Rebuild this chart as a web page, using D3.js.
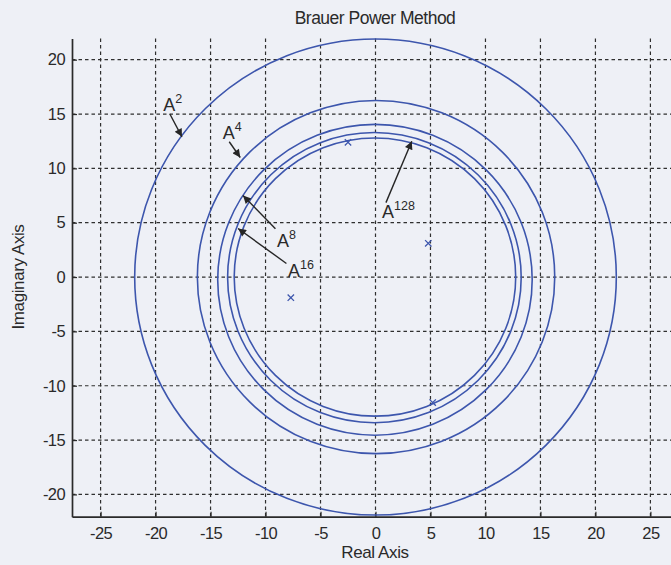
<!DOCTYPE html>
<html><head><meta charset="utf-8">
<script src="https://cdn.jsdelivr.net/npm/d3@7"></script>
<style>
html,body{margin:0;padding:0;background:#eef0f6;}
svg{display:block;}
text{font-family:"Liberation Sans",Arial,sans-serif;fill:#2a2a2a;}
</style></head><body>
<script>
// ---- data ----
const xTicks = [-25,-20,-15,-10,-5,0,5,10,15,20,25];
const yTicks = [-20,-15,-10,-5,0,5,10,15,20];
const ovalNames = ["A^2","A^4","A^8","A^16","A^128"];
const ovalCx = [0.0, 0.05, -0.05, -0.1, -0.05];
const ovalCy = [0.0, 0.0, -0.25, -0.05, 0.0];
const ovalR  = [21.9, 16.25, 14.3, 13.35, 12.8];
const eigRe = [-2.5, 4.8, -7.7, 5.2];
const eigIm = [12.4, 3.1, -1.9, -11.55];
const labelBase = ["A","A","A","A","A"];
const labelSup = ["2","4","8","16","128"];
const labelX = [-19.3, -13.9, -8.95, -7.95, 0.6];
const labelY = [15.3, 12.7, 2.75, 0.05, 5.4];
const arrowFromX = [-18.7, -13.3, -9.1, -8.1, 0.95];
const arrowFromY = [15.0, 12.45, 4.45, 1.25, 6.85];
const arrowToX = [-17.6, -12.3, -12.05, -12.5, 3.3];
const arrowToY = [12.9, 11.0, 7.5, 4.47, 12.5];

const W=671,H=565;
const FONT="'Liberation Sans',Arial,sans-serif";
const svg=d3.select("body").append("svg").attr("width",W).attr("height",H);
const x=d3.scaleLinear().domain([-27.6,27.6]).range([72,679]);
const y=d3.scaleLinear().domain([-22.05,21.95]).range([516.7,38.5]);

svg.append("defs").append("marker").attr("id","ah").attr("viewBox","0 0 10 10")
 .attr("refX",10).attr("refY",5).attr("markerWidth",11).attr("markerHeight",8).attr("markerUnits","userSpaceOnUse")
 .attr("orient","auto").append("path").attr("d","M0,0 L10,5 L0,10 z").attr("fill","#262626");

svg.append("clipPath").attr("id","pc").append("rect")
 .attr("x",72).attr("y",37).attr("width",W-72).attr("height",516.7-37+1.5);

// grid
const g=svg.append("g");
g.selectAll("line.gx").data(xTicks).join("line")
 .attr("x1",d=>x(d)).attr("x2",d=>x(d)).attr("y1",y.range()[1]).attr("y2",y.range()[0])
 .attr("stroke","#2f2f2f").attr("stroke-width",1.2).attr("stroke-dasharray","3.5,3");
g.selectAll("line.gy").data(yTicks).join("line")
 .attr("y1",d=>y(d)).attr("y2",d=>y(d)).attr("x1",72).attr("x2",W)
 .attr("stroke","#2f2f2f").attr("stroke-width",1.2).attr("stroke-dasharray","3.5,3");

// axes
const fmt=d=>String(d);
const xAxis=d3.axisBottom(x).tickValues(xTicks).tickFormat(fmt).tickSizeInner(-5).tickSizeOuter(0).tickPadding(8);
const yAxis=d3.axisLeft(y).tickValues(yTicks).tickFormat(fmt).tickSizeInner(-5).tickSizeOuter(0).tickPadding(7);
const ax=svg.append("g").attr("transform",`translate(0,${y.range()[0]})`).call(xAxis);
const ay=svg.append("g").attr("transform",`translate(72,0)`).call(yAxis);
[ax,ay].forEach(a=>{
 a.select(".domain").attr("stroke","#2a2a2a").attr("stroke-width",1.7);
 a.selectAll(".tick line").attr("stroke","#2a2a2a").attr("stroke-width",1.2);
 a.selectAll(".tick text").attr("font-size",16.5).attr("fill","#222")
  .attr("font-family",FONT).attr("letter-spacing","-0.6px");
});
ax.selectAll(".tick text").attr("dy","0.85em");

// ovals
const pg=svg.append("g").attr("clip-path","url(#pc)");
pg.selectAll("ellipse").data(ovalR).join("ellipse")
 .attr("cx",(d,i)=>x(ovalCx[i])).attr("cy",(d,i)=>y(ovalCy[i]))
 .attr("rx",(d,i)=>x(ovalCx[i]+d)-x(ovalCx[i])).attr("ry",(d,i)=>y(ovalCy[i])-y(ovalCy[i]+d))
 .attr("fill","none").attr("stroke","#3d56ad").attr("stroke-width",1.6);

// eigenvalues
const s=3.2;
pg.selectAll("path.eig").data(eigRe).join("path").attr("class","eig")
 .attr("d",(d,i)=>{const cx=x(d),cy=y(eigIm[i]);return `M${cx-s},${cy-s}L${cx+s},${cy+s}M${cx-s},${cy+s}L${cx+s},${cy-s}`;})
 .attr("stroke","#3d56ad").attr("stroke-width",1.3);

// annotations
const an=svg.append("g");
an.selectAll("line").data(arrowFromX).join("line")
 .attr("x1",(d,i)=>x(d)).attr("y1",(d,i)=>y(arrowFromY[i]))
 .attr("x2",(d,i)=>x(arrowToX[i])).attr("y2",(d,i)=>y(arrowToY[i]))
 .attr("stroke","#262626").attr("stroke-width",1.4).attr("marker-end","url(#ah)");
const lt=an.selectAll("text").data(labelBase).join("text")
 .attr("x",(d,i)=>x(labelX[i])).attr("y",(d,i)=>y(labelY[i]))
 .attr("font-size",18).attr("fill","#2a2a2a").attr("font-family",FONT);
lt.append("tspan").text(d=>d);
lt.append("tspan").attr("dy",-8).attr("font-size",12.5).text((d,i)=>labelSup[i]);

// titles
svg.append("text").attr("x",375).attr("y",24).attr("text-anchor","middle")
 .attr("font-size",17.5).attr("font-family",FONT).attr("letter-spacing","-0.5px").attr("fill","#2a2a2a")
 .text("Brauer Power Method");
svg.append("text").attr("x",375).attr("y",558).attr("text-anchor","middle")
 .attr("font-size",17).attr("font-family",FONT).attr("letter-spacing","-0.4px")
 .text("Real Axis");
svg.append("text").attr("transform","translate(24,277) rotate(-90)").attr("text-anchor","middle")
 .attr("font-size",17).attr("font-family",FONT).attr("letter-spacing","-0.4px")
 .text("Imaginary Axis");
</script>
</body></html>
